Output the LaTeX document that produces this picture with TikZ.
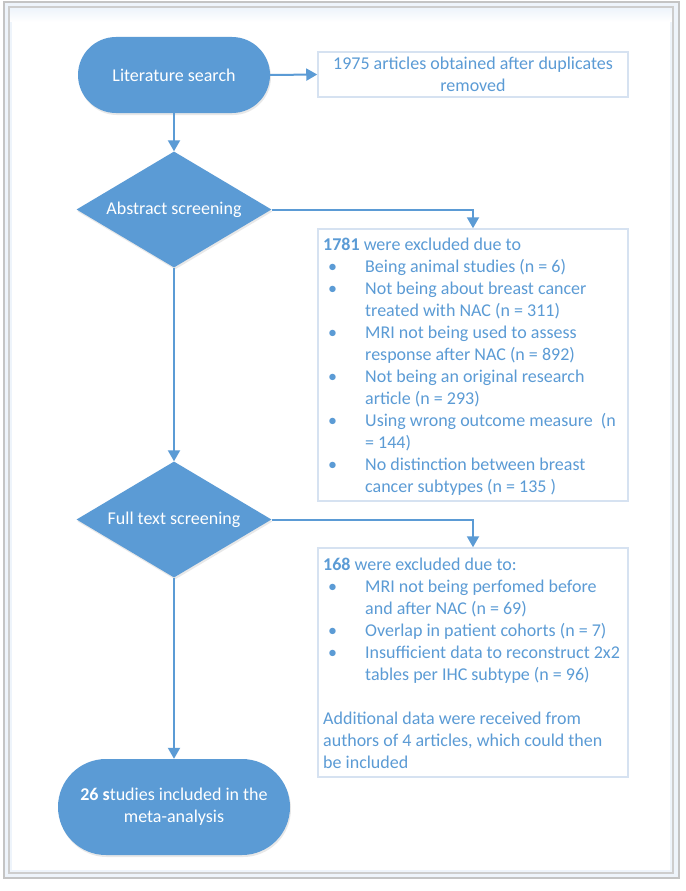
\documentclass[tikz,border=0pt]{standalone}
\usepackage{fontspec}
\setmainfont{Carlito}
\usetikzlibrary{shapes.geometric,arrows.meta,shadows}
\definecolor{obl}{HTML}{5B9BD5}
\definecolor{bxl}{HTML}{D6E2F1}
\definecolor{frm}{HTML}{C4C4C4}
\definecolor{glow}{HTML}{EEF4FB}
\newcommand\blt{\hspace*{5pt}\makebox[37pt][l]{\textbullet}}
\newcommand\cnt{\hspace*{42pt}}
\begin{document}
\begin{tikzpicture}[x=1pt,y=-1pt,
  font=\fontsize{18}{22}\selectfont,
  pill/.style={rectangle, rounded corners=#1, fill=obl, text=white, align=center, inner sep=0pt,
     drop shadow={opacity=0.18, shadow xshift=1pt, shadow yshift=-2pt}},
  flowd/.style={diamond, aspect=1.68, fill=obl, text=white, minimum width=195pt, minimum height=116pt, inner sep=0pt,
     drop shadow={opacity=0.18, shadow xshift=1pt, shadow yshift=-2pt}},
  exbox/.style={rectangle, draw=bxl, line width=1.5pt, fill=white, inner sep=0pt},
  boxtxt/.style={anchor=base west, inner sep=0pt, text=obl},
  conn/.style={draw=obl, line width=2pt, -{Triangle[length=11pt,width=12pt]}}]
\useasboundingbox (0,0) rectangle (685,891);
% frame
\fill[glow] (4,2) rectangle (679,878);
\fill[white] (12,16) rectangle (670,870);
\shade[top color=glow, bottom color=white] (10,8) rectangle (672,22);
\draw[frm, line width=2pt] (4,2) rectangle (679,878);
\draw[frm!85, line width=1.5pt] (9,7) rectangle (673,873);
% nodes
\node[pill=38pt, minimum width=192pt, minimum height=76pt] (lit) at (174,75) {Literature search};
\node[exbox, minimum width=310pt, minimum height=45pt, text=obl, align=center] (dup) at (473,74.5)
  {1975 articles obtained after duplicates\\removed};
\node[flowd] (abs) at (174,209.5) {Abstract screening};
\node[exbox, minimum width=310pt, minimum height=272pt] (ex1) at (473,365) {};
\node[boxtxt] (ex1t) at (323,250) {\begin{minipage}[t]{300pt}\fontsize{18}{22}\selectfont
\textbf{1781} were excluded due to\\
\blt Being animal studies (n = 6)\\
\blt Not being about breast cancer\\
\cnt treated with NAC (n = 311)\\
\blt MRI not being used to assess\\
\cnt response after NAC (n = 892)\\
\blt Not being an original research\\
\cnt article (n = 293)\\
\blt Using wrong outcome measure~ (n\\
\cnt = 144)\\
\blt No distinction between breast\\
\cnt cancer subtypes (n = 135 )
\end{minipage}};
\node[flowd] (full) at (174,519.5) {Full text screening};
\node[exbox, minimum width=310pt, minimum height=229pt] (ex2) at (473,662.5) {};
\node[boxtxt] (ex2t) at (323,570) {\begin{minipage}[t]{300pt}\fontsize{18}{22}\selectfont
\textbf{168} were excluded due to:\\
\blt MRI not being perfomed before\\
\cnt and after NAC (n = 69)\\
\blt Overlap in patient cohorts (n = 7)\\
\blt Insufficient data to reconstruct 2x2\\
\cnt tables per IHC subtype (n = 96)\\
\mbox{}\\
Additional data were received from\\
authors of 4 articles, which could then\\
be included
\end{minipage}};
\node[pill=48pt, minimum width=232pt, minimum height=96pt] (inc) at (174,807)
  {\textbf{26 s}tudies included in the\\meta-analysis};
% connectors
\draw[conn] (lit.east) -- (dup.west);
\draw[conn] (lit.south) -- (abs.north);
\draw[conn] (abs.east) -| (ex1.north);
\draw[conn] (abs.south) -- (full.north);
\draw[conn] (full.east) -| (ex2.north);
\draw[conn] (full.south) -- (inc.north);
\end{tikzpicture}
\end{document}
